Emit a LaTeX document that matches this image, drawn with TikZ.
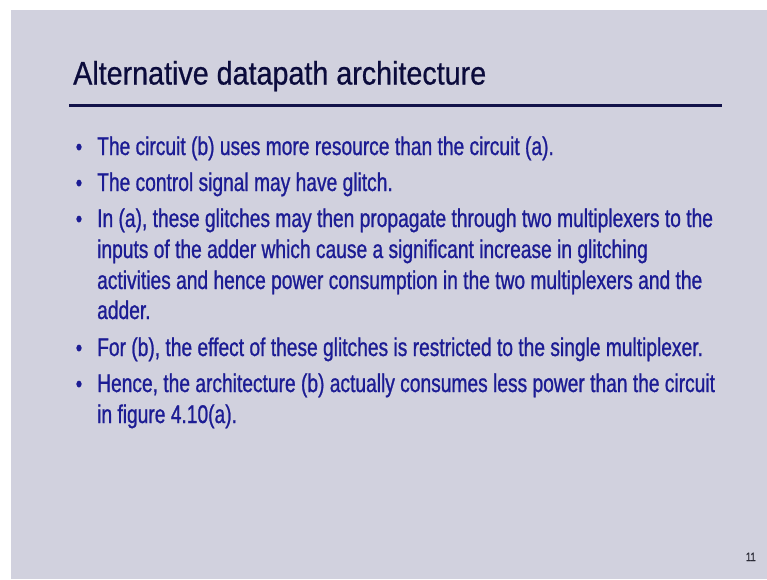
\documentclass[tikz,border=0pt]{standalone}
\usepackage{fontspec}
\setmainfont{Liberation Sans}
\newfontfamily\titlefont[FakeStretch=0.88,FakeBold=0.7]{Liberation Sans}
\newfontfamily\bodyfont[FakeStretch=0.75,FakeBold=0.9]{Liberation Sans}
\newfontfamily\numfont[FakeStretch=0.8,FakeBold=1.2]{Liberation Sans}
\definecolor{slidebg}{HTML}{D1D1DE}
\definecolor{titlecol}{HTML}{0B0B3C}
\definecolor{bodycol}{HTML}{1C1C94}
\definecolor{rulecol}{HTML}{12124A}
\definecolor{numcol}{HTML}{2A2A36}
\tikzset{
  slidetitle/.style={anchor=base west, inner sep=0pt, text=titlecol, font=\titlefont\fontsize{32.6}{36}\selectfont},
  bodyline/.style={anchor=base west, inner sep=0pt, text=bodycol, font=\bodyfont\fontsize{25.6}{30}\selectfont},
  bulletmark/.style={anchor=base, inner sep=0pt, text=bodycol, font=\bodyfont\fontsize{24}{28}\selectfont},
}
\begin{document}
\begin{tikzpicture}[x=1pt,y=-1pt]
  \useasboundingbox (0,0) rectangle (767,579);
  \fill[white] (0,0) rectangle (767,579);
  \fill[slidebg] (11,10) rectangle (767,579);

  % title and rule
  \node[slidetitle] (title) at (73,84.5) {Alternative datapath architecture};
  \coordinate (ruleL) at (69,105.5);
  \coordinate (ruleR) at (722,105.5);
  \draw[rulecol, line width=2.6pt] (ruleL) -- (ruleR);

  % bullets
  \foreach \y/\n in {155/b1,191/b2,227/b3,356/b4,392/b5}
    \node[bulletmark] (\n) at (79,\y) {•};

  \node[bodyline] (l1) at (97,155) {The circuit (b) uses more resource than the circuit (a).};
  \node[bodyline] (l2) at (97,191) {The control signal may have glitch.};
  \node[bodyline] (l3) at (97,227) {In (a), these glitches may then propagate through two multiplexers to the};
  \node[bodyline] (l4) at (97,258) {inputs of the adder which cause a significant increase in glitching};
  \node[bodyline] (l5) at (97,289) {activities and hence power consumption in the two multiplexers and the};
  \node[bodyline] (l6) at (97,319) {adder.};
  \node[bodyline] (l7) at (97,356) {For (b), the effect of these glitches is restricted to the single multiplexer.};
  \node[bodyline] (l8) at (97,392) {Hence, the architecture (b) actually consumes less power than the circuit};
  \node[bodyline] (l9) at (97,423) {in figure 4.10(a).};

  % page number
  \node[anchor=base east, inner sep=0pt, text=numcol, font=\numfont\fontsize{12}{14}\selectfont] (pnum) at (756,561) {11};
\end{tikzpicture}
\end{document}
